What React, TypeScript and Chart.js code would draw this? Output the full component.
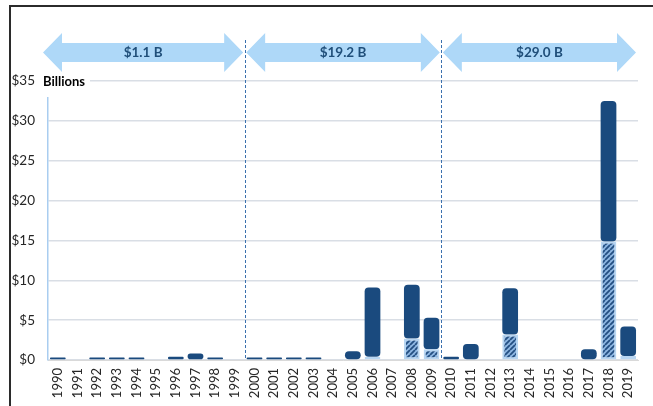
import React, { useEffect, useRef } from "react";
import { Chart, registerables } from "chart.js";

Chart.register(...registerables);

const years = [
  "1990", "1991", "1992", "1993", "1994", "1995", "1996", "1997", "1998", "1999",
  "2000", "2001", "2002", "2003", "2004", "2005", "2006", "2007", "2008", "2009",
  "2010", "2011", "2012", "2013", "2014", "2015", "2016", "2017", "2018", "2019",
];

// lower, hatched segment (billions)
const hatchedValues = [
  0, 0, 0, 0, 0, 0, 0, 0, 0, 0,
  0, 0, 0, 0, 0, 0, 0.4, 0, 2.7, 1.35,
  0, 0, 0, 3.2, 0, 0, 0, 0, 14.85, 0.5,
];

// upper, solid segment (billions)
const solidValues = [
  0.3, 0, 0.3, 0.3, 0.3, 0, 0.4, 0.8, 0.3, 0,
  0.3, 0.3, 0.3, 0.3, 0, 1.1, 8.7, 0, 6.75, 3.95,
  0.4, 2.0, 0, 5.8, 0, 0, 0, 1.35, 17.65, 3.7,
];

const yTicks = [0, 5, 10, 15, 20, 25, 30, 35];

const periods = [
  { label: "$1.1 B", from: 0, to: 9 },
  { label: "$19.2 B", from: 10, to: 19 },
  { label: "$29.0 B", from: 20, to: 29 },
];

const axisTitle = "Billions";

const DARK = "#1A4A7E";
const ARROW = "#AED8F8";
const TEXT_DARK = "#1F4E79";
const FONT = "Lato, 'Open Sans', sans-serif";

function makeHatch(): CanvasPattern | string {
  const c = document.createElement("canvas");
  const s = 5;
  c.width = s;
  c.height = s;
  const g = c.getContext("2d");
  if (!g) return "#9DC3E6";
  g.fillStyle = "#8DB6E2";
  g.fillRect(0, 0, s, s);
  g.strokeStyle = "#244F82";
  g.lineWidth = 1.8;
  g.beginPath();
  for (let k = -1; k <= 1; k++) {
    g.moveTo(k * s, s);
    g.lineTo(k * s + s, 0);
  }
  g.stroke();
  const p = g.createPattern(c, "repeat");
  return p || "#9DC3E6";
}

export default function App() {
  const ref = useRef<HTMLCanvasElement | null>(null);

  useEffect(() => {
    document.body.style.margin = "0";
    const canvas = ref.current;
    if (!canvas) return;

    const overlay = {
      id: "overlay",
      afterDraw(chart: any) {
        const ctx = chart.ctx;
        const x = chart.scales.x;
        const area = chart.chartArea;
        const boundary = (i: number) =>
          (x.getPixelForValue(i) + x.getPixelForValue(i + 1)) / 2;
        const left = x.getPixelForValue(0) - (x.getPixelForValue(1) - x.getPixelForValue(0)) / 2;
        const right = x.getPixelForValue(29) + (x.getPixelForValue(29) - x.getPixelForValue(28)) / 2;
        ctx.save();

        // dashed dividers
        ctx.strokeStyle = "#3A70AE";
        ctx.lineWidth = 1;
        ctx.setLineDash([3, 2]);
        [9, 19].forEach((i) => {
          const bx = Math.round(boundary(i)) + 0.5;
          ctx.beginPath();
          ctx.moveTo(bx, 40);
          ctx.lineTo(bx, area.bottom);
          ctx.stroke();
        });
        ctx.setLineDash([]);

        // arrows
        const cy = 52.5;
        const headH = 19.5;
        const shaftH = 9.5;
        const headL = 19;
        periods.forEach((p, idx) => {
          const x0 = idx === 0 ? left - 5 : boundary(p.from - 1) + 1.5;
          const x1 = idx === 2 ? right - 2 : boundary(p.to) - 1.5;
          ctx.fillStyle = ARROW;
          ctx.beginPath();
          ctx.moveTo(x0, cy);
          ctx.lineTo(x0 + headL, cy - headH);
          ctx.lineTo(x0 + headL, cy - shaftH);
          ctx.lineTo(x1 - headL, cy - shaftH);
          ctx.lineTo(x1 - headL, cy - headH);
          ctx.lineTo(x1, cy);
          ctx.lineTo(x1 - headL, cy + headH);
          ctx.lineTo(x1 - headL, cy + shaftH);
          ctx.lineTo(x0 + headL, cy + shaftH);
          ctx.lineTo(x0 + headL, cy + headH);
          ctx.closePath();
          ctx.fill();
          ctx.fillStyle = TEXT_DARK;
          ctx.font = "bold 13.5px " + FONT;
          ctx.textAlign = "center";
          ctx.textBaseline = "middle";
          ctx.fillText(p.label, (x0 + x1) / 2, cy);
        });

        // Billions label
        ctx.fillStyle = "#FFFFFF";
        ctx.fillRect(area.left - 6, area.top - 7, 48, 23);
        ctx.fillStyle = "#000000";
        ctx.font = "bold 13px " + FONT;
        ctx.textAlign = "left";
        ctx.textBaseline = "middle";
        ctx.fillText(axisTitle, area.left - 5, area.top + 1);

        // frame
        ctx.strokeStyle = "#2B2B2B";
        ctx.lineWidth = 2;
        ctx.beginPath();
        ctx.moveTo(10, chart.height + 2);
        ctx.lineTo(10, 6);
        ctx.lineTo(chart.width + 2, 6);
        ctx.stroke();
        ctx.restore();
      },
    };

    const chart = new Chart(canvas, {
      type: "bar",
      data: {
        labels: years,
        datasets: [
          {
            label: "Hatched",
            data: hatchedValues,
            backgroundColor: makeHatch() as any,
            borderColor: "#B8D6F2",
            borderWidth: (c: any) => (c.raw ? 2 : 0),
            borderSkipped: false,
            barPercentage: 0.8,
            categoryPercentage: 1.0,
          },
          {
            label: "Solid",
            data: solidValues,
            backgroundColor: DARK,
            borderWidth: 0,
            borderRadius: 4,
            borderSkipped: false,
            barPercentage: 0.8,
            categoryPercentage: 1.0,
          },
        ],
      },
      plugins: [overlay],
      options: {
        animation: false,
        responsive: false,
        maintainAspectRatio: false,
        devicePixelRatio: 1,
        layout: { padding: { top: 81, right: 15, left: 0, bottom: 0 } },
        plugins: {
          legend: { display: false },
          tooltip: { enabled: false },
          title: { display: false },
        },
        scales: {
          x: {
            stacked: true,
            grid: { display: false, drawTicks: false },
            border: { display: true, color: "#D9D9D9", width: 1 },
            ticks: {
              autoSkip: false,
              minRotation: 90,
              maxRotation: 90,
              padding: 8,
              color: "#262626",
              font: { family: FONT, size: 13 },
            },
            afterFit(scale: any) {
              scale.height = 46;
            },
          },
          y: {
            stacked: true,
            min: 0,
            max: 35,
            afterBuildTicks(scale: any) {
              scale.ticks = yTicks.map((v) => ({ value: v }));
            },
            grid: { color: "#D9DEE5", lineWidth: 1.5, drawTicks: false },
            border: { display: true, color: "#A9CDF0", width: 1.5 },
            ticks: {
              padding: 13,
              color: "#262626",
              font: { family: FONT, size: 13.5 },
              callback: (v: any) => "$" + v,
            },
            afterFit(scale: any) {
              scale.width = 48;
            },
          },
        },
      },
    } as any);

    return () => chart.destroy();
  }, []);

  return (
    <div style={{ position: "absolute", left: 0, top: 0, width: 653, height: 406 }}>
      <canvas ref={ref} width={653} height={406} style={{ display: "block", width: 653, height: 406 }} />
    </div>
  );
}
